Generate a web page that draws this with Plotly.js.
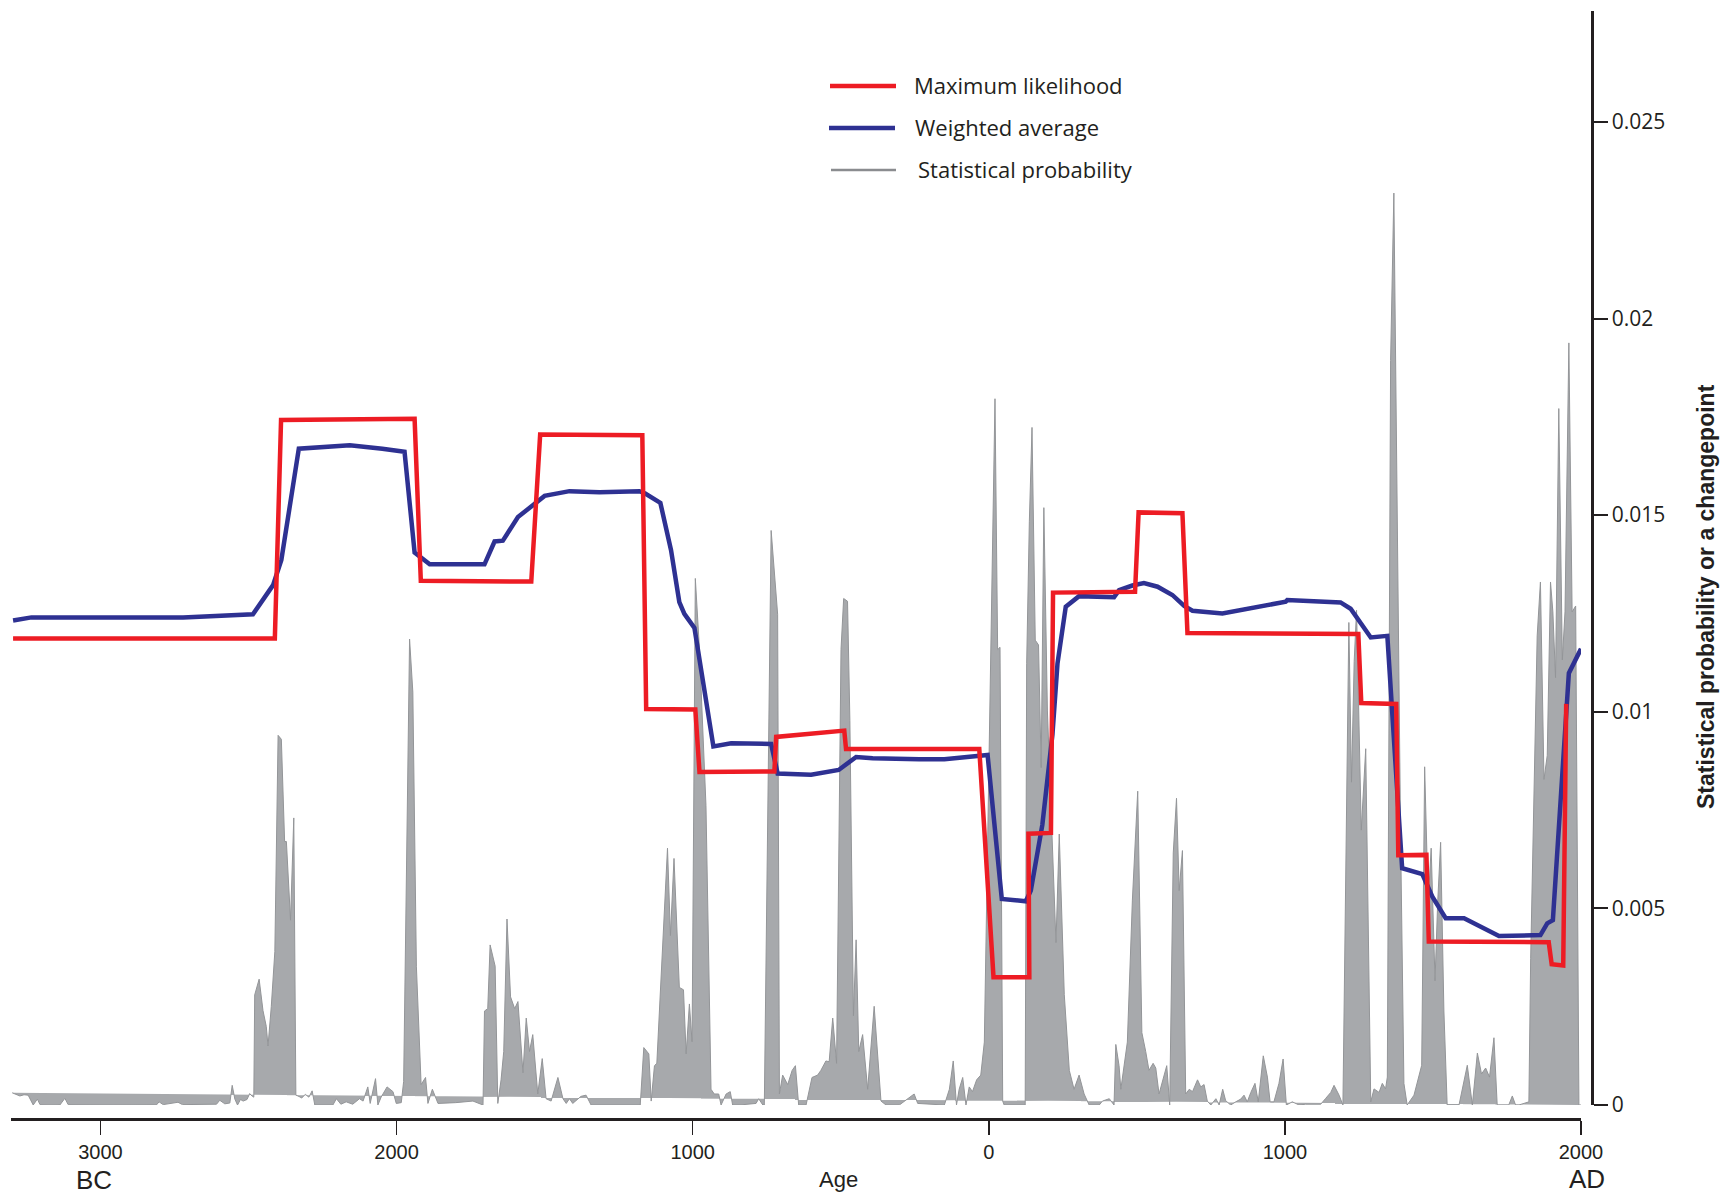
<!DOCTYPE html>
<html>
<head>
<meta charset="utf-8">
<script src="https://cdn.plot.ly/plotly-3.0.1.min.js"></script>
<style>
  html, body { margin: 0; padding: 0; background: #ffffff; }
  #chart { width: 1724px; height: 1198px; }
</style>
</head>
<body>
<div id="chart"></div>
<script>
// ---- Statistical probability (grey area) ----
var probYears = [
  -3298,-3272,-3258,-3244,-3227,-3213,-3204,-3137,-3120,-3109,-2811,-2802,-2788,-2738,-2723,-2608,-2597,-2580,-2563,-2555,-2546,-2537,-2527,-2518,-2505,-2496,-2487,-2482,
  -2479,-2464,-2451,-2440,-2434,-2423,-2411,-2400,-2389,-2378,-2372,-2358,-2347,-2340,
  -2333,-2320,-2308,-2296,-2285,-2276,-2215,-2203,-2188,-2170,-2148,-2125,-2113,-2104,-2097,-2089,-2080,-2071,-2063,-2052,-2032,-2012,-2001,-1984,
  -1976,-1956,-1945,-1933,-1917,-1902,-1894,-1879,-1860,-1800,-1742,-1708,
  -1703,-1692,-1684,-1667,-1658,-1647,-1638,-1627,-1615,-1601,-1590,-1573,-1562,-1551,-1540,-1523,-1508,-1495,-1478,-1455,-1438,-1427,-1416,-1405,-1377,-1360,-1343,-1247,
  -1177,-1165,-1148,-1140,-1129,-1121,-1110,-1099,-1085,-1075,-1063,-1045,-1031,-1022,-1011,-1002,-991,-977,-955,-938,-927,-912,-904,-887,-873,-865,-842,-786,-777,-763,-758,
  -735,-713,-707,-696,-679,-664,-653,-642,-617,-597,-578,-567,-550,-539,-527,-514,-499,-490,-477,-469,-457,-448,-439,-426,-409,-387,-364,-347,-302,-252,-240,
  -150,-133,-120,-109,-100,-88,-77,-66,-55,-41,-27,-15,-4,11,21,30,38,47,52,123,128,137,146,157,168,177,186,198,215,227,238,255,272,288,305,322,339,373,384,407,423,429,440,446,468,485,503,517,530,541,555,564,575,589,601,611,623,634,643,654,665,677,688,705,716,727,738,750,767,778,
  790,800,817,834,851,862,873,885,899,910,927,941,950,963,980,994,1005,1025,1048,1070,1093,1121,1138,1155,1166,1183,1196,1205,1216,1225,1234,1242,1250,1258,1273,1281,1290,1301,1318,1329,1340,1346,1357,1368,1380,1391,1402,1413,1436,1453,1462,1472,1484,1494,1507,1516,1526,1537,1548,1588,1602,1616,1633,1650,1664,1678,1691,1706,1717,1756,1768,1779,1790,
  1824,1830,1841,1852,1863,1875,1886,1897,1905,1914,1925,1937,1946,1959,1970,1982,1993,2000
];
var probValues = [
  0.00031,0.00023,0.00026,0.00025,0.0,0.00015,0.00001,0.0,0.00017,0.00001,0.0,0.00008,0.00001,0.00007,0.00001,0.00002,0.00012,0.00003,0.00005,0.0005,0.00015,0.0,0.00014,0.0001,0.00014,0.00029,0.00022,0.0002,
  0.0028,0.0032,0.0024,0.0020,0.0015,0.0025,0.0039,0.0094,0.0093,0.0067,0.0067,0.0047,0.0073,0.00025,
  0.00023,0.00018,0.00027,0.0002,0.00036,0.0,0.0,0.00016,0.00002,0.00008,0.00002,0.00016,0.0001,0.00028,0.00046,0.00004,0.0004,0.00067,0.0,0.0002,0.00046,0.00034,0.00004,0.00006,
  0.0006,0.01185,0.0105,0.00353,0.00052,0.0007,0.00004,0.0004,0.00004,0.00006,0.0001,0.0,
  0.00239,0.00245,0.00407,0.00353,0.00004,0.00064,0.00136,0.00473,0.00275,0.00245,0.00263,0.00082,0.00221,0.00136,0.00179,0.00028,0.00118,0.00016,0.0001,0.0007,0.00016,0.00004,0.00016,0.00004,0.00022,0.00025,0.0,0.0,
  0.0,0.00146,0.0013,0.0001,0.001,0.00106,0.00281,0.00461,0.00653,0.00431,0.00627,0.00299,0.00293,0.0013,0.00257,0.00161,0.01339,0.01158,0.00761,0.0004,0.00028,0.00028,0.0,0.00028,0.00034,0.0,0.0,0.00004,0.00016,0.0,0.0,
  0.01461,0.01248,0.00028,0.00076,0.00052,0.00088,0.001,0.0,0.0,0.0007,0.00076,0.00088,0.00112,0.0011,0.00221,0.00106,0.01158,0.01288,0.01281,0.00978,0.00227,0.0042,0.00136,0.00179,0.0004,0.00251,0.0001,0.0,0.0,0.00028,0.00004,
  0.0,0.0004,0.00112,0.0,0.0004,0.0007,0.0,0.00046,0.00034,0.00064,0.00076,0.0016,0.00641,0.01363,0.01796,0.01158,0.01164,0.0001,0.0,0.0,0.01122,0.01483,0.01723,0.01182,0.0117,0.00858,0.01519,0.01002,0.00641,0.00413,0.00689,0.00281,0.00088,0.0004,0.00076,0.00028,0.0,0.0,0.0001,0.00016,0.0,0.00154,0.001,0.0004,0.0016,0.00521,0.00798,0.00184,0.00136,0.00088,0.00106,0.00094,0.00028,0.00064,0.001,0.0,0.00641,0.0078,0.00545,0.00647,0.00028,0.0004,0.00034,0.00064,0.00046,0.00052,0.0001,0.0,0.00016,0.0,
  0.0004,0.00011,0.0,0.00008,0.00015,0.00025,0.00008,0.00032,0.00055,0.00008,0.00125,0.00071,0.00008,0.00008,0.00055,0.00117,0.0,0.00008,0.0,0.00002,0.00002,0.00002,0.00017,0.00032,0.0005,0.00025,0.0,0.00515,0.01227,0.00821,0.01128,0.01258,0.00974,0.00699,0.00906,0.00515,0.00008,0.00041,0.00032,0.00055,0.00041,0.00071,0.01893,0.02319,0.01449,0.00668,0.00055,0.0,0.00025,0.00079,0.00101,0.0086,0.00515,0.00653,0.00316,0.00515,0.00668,0.00239,0.0,0.0,0.00055,0.00101,0.0,0.00132,0.00079,0.00094,0.00071,0.00171,0.0,0.0,0.00023,0.0,0.0,
  0.00008,0.00372,0.00828,0.01193,0.0133,0.00828,0.00889,0.0133,0.01254,0.01087,0.01771,0.01132,0.01254,0.01938,0.01254,0.01269,0.0,0.0
];

// ---- Maximum likelihood (red) ----
var mlYears = [-3295,-2411,-2390,-1939,-1918,-1545,-1515,-1170,-1157,-991,-977,-724,-718,-488,-482,-32,16,137,134,210,217,494,506,654,671,1248,1258,1376,1383,1478,1486,1891,1901,1940,1950];
var mlValues = [0.01186,0.01186,0.01742,0.01745,0.01333,0.01331,0.01705,0.01703,0.01007,0.01006,0.00847,0.00848,0.00936,0.00952,0.00905,0.00905,0.00325,0.00325,0.0069,0.00692,0.01303,0.01305,0.01507,0.01505,0.012,0.01198,0.01022,0.0102,0.00635,0.00636,0.00416,0.00414,0.00358,0.00355,0.0102];

// ---- Weighted average (blue) ----
var waYears = [-3295,-3233,-2721,-2485,-2417,-2389,-2330,-2158,-2048,-1973,-1939,-1888,-1703,-1669,-1641,-1590,-1500,-1416,-1315,-1180,-1160,-1109,-1073,-1045,-1028,-994,-930,-870,-735,-713,-600,-507,-448,-392,-235,-150,-4,44,125,142,181,215,232,260,305,423,440,485,524,570,620,660,688,789,1003,1008,1188,1222,1290,1346,1396,1464,1498,1543,1605,1650,1723,1863,1886,1905,1959,2000];
var waValues = [0.01232,0.0124,0.0124,0.01248,0.01322,0.01386,0.01669,0.01678,0.01669,0.01661,0.01405,0.01375,0.01375,0.01433,0.01435,0.01495,0.01549,0.01561,0.01558,0.01561,0.01555,0.01531,0.01411,0.01279,0.01249,0.01213,0.00912,0.0092,0.00918,0.00843,0.0084,0.00852,0.00885,0.00882,0.00879,0.00879,0.0089,0.00524,0.00518,0.00545,0.00713,0.00942,0.01122,0.01267,0.01294,0.01291,0.01309,0.01321,0.01327,0.01318,0.01297,0.01269,0.01257,0.0125,0.0128,0.01284,0.01278,0.01262,0.01189,0.01193,0.00602,0.00587,0.0053,0.00475,0.00475,0.00458,0.0043,0.00432,0.00462,0.0047,0.01098,0.0116];

// ---- Axis ticks ----
var xTickVals = [-3000,-2000,-1000,0,1000,2000];
var xTickText = ['3000','2000','1000','0','1000','2000'];
var yTickVals = [0,0.005,0.01,0.015,0.02,0.025];
var yTickText = ['0','0.005','0.01','0.015','0.02','0.025'];

var seriesNames = ['Statistical probability','Weighted average','Maximum likelihood'];

var INK = '#231f20';
var RED = '#ed1c24';
var BLUE = '#2e3192';
var GREYFILL = '#a7a9ac';
var GREYLINE = '#939598';
var NARROW = "'Liberation Sans Narrow', 'Liberation Sans', sans-serif";
var REG = "'Open Sans', 'Liberation Sans', sans-serif";

var traces = [
  {x: probYears, y: probValues, name: seriesNames[0], type: 'scatter', mode: 'lines',
   fill: 'toself', fillcolor: GREYFILL, line: {color: GREYLINE, width: 1}, showlegend: false},
  {x: waYears, y: waValues, name: seriesNames[1], type: 'scatter', mode: 'lines',
   line: {color: BLUE, width: 4.5}, showlegend: false},
  {x: mlYears, y: mlValues, name: seriesNames[2], type: 'scatter', mode: 'lines',
   line: {color: RED, width: 4.5}, showlegend: false}
];

// plot area: x 11..1592 (full), y 11..1119
var L = 11, R = 1724 - 1592, T = 11, B = 1198 - 1119;
var W = 1724 - L - R, H = 1198 - T - B;
function px(x) { return (x - L) / W; }
function py(y) { return (1198 - B - y) / H; }

var legendItems = [
  {name: seriesNames[2], color: RED, width: 4.5, y: 86, x0: 830, x1: 896, tx: 912},
  {name: seriesNames[1], color: BLUE, width: 4.5, y: 128, x0: 829, x1: 895, tx: 913},
  {name: seriesNames[0], color: '#8a8c8f', width: 2.5, y: 170, x0: 831, x1: 896, tx: 916}
];

var shapes = [];
var annotations = [];
legendItems.forEach(function (it) {
  shapes.push({type: 'line', xref: 'paper', yref: 'paper', x0: px(it.x0), x1: px(it.x1),
    y0: py(it.y), y1: py(it.y), line: {color: it.color, width: it.width}});
  annotations.push({xref: 'paper', yref: 'paper', x: px(it.tx), y: py(it.y - 1), xanchor: 'left', yanchor: 'middle',
    text: it.name, showarrow: false, font: {family: REG, size: 22, color: INK}});
});

annotations.push({xref: 'paper', yref: 'paper', x: px(94), y: py(1180), text: 'BC', showarrow: false,
  xanchor: 'center', yanchor: 'middle', font: {family: NARROW, size: 26, color: INK}});
annotations.push({xref: 'paper', yref: 'paper', x: px(838), y: py(1179), text: 'Age', showarrow: false,
  xanchor: 'center', yanchor: 'middle', font: {family: NARROW, size: 22, color: INK}});
annotations.push({xref: 'paper', yref: 'paper', x: px(1587), y: py(1179), text: 'AD', showarrow: false,
  xanchor: 'center', yanchor: 'middle', font: {family: NARROW, size: 26, color: INK}});
annotations.push({xref: 'paper', yref: 'paper', x: px(1706), y: py(596), text: '<b>Statistical probability or a changepoint</b>',
  showarrow: false, textangle: -90, xanchor: 'center', yanchor: 'middle', font: {family: NARROW, size: 23, color: INK}});

var layout = {
  width: 1724, height: 1198,
  margin: {l: L, r: R, t: T, b: B, pad: 0},
  paper_bgcolor: '#ffffff', plot_bgcolor: '#ffffff',
  showlegend: false,
  font: {family: REG, color: INK},
  xaxis: {
    domain: [0, (1581 - L) / W], range: [-3302, 2000], anchor: 'free', position: 0,
    showline: true, linecolor: INK, linewidth: 3, mirror: false,
    ticks: 'outside', ticklen: 14, tickwidth: 1.5, tickcolor: INK,
    tickmode: 'array', tickvals: xTickVals, ticktext: xTickText,
    tickfont: {family: NARROW, size: 20, color: INK},
    showgrid: false, zeroline: false, fixedrange: true
  },
  yaxis: {
    domain: [14 / H, 1], range: [0, 0.02782], anchor: 'free', position: 1, side: 'right',
    showline: true, linecolor: INK, linewidth: 2.5,
    ticks: 'outside', ticklen: 14, tickwidth: 2, tickcolor: INK,
    tickmode: 'array', tickvals: yTickVals, ticktext: yTickText,
    tickfont: {family: REG, size: 21, color: INK},
    showgrid: false, zeroline: false, fixedrange: true
  },
  shapes: shapes,
  annotations: annotations
};

Plotly.newPlot('chart', traces, layout, {displayModeBar: false, staticPlot: true});
</script>
</body>
</html>
